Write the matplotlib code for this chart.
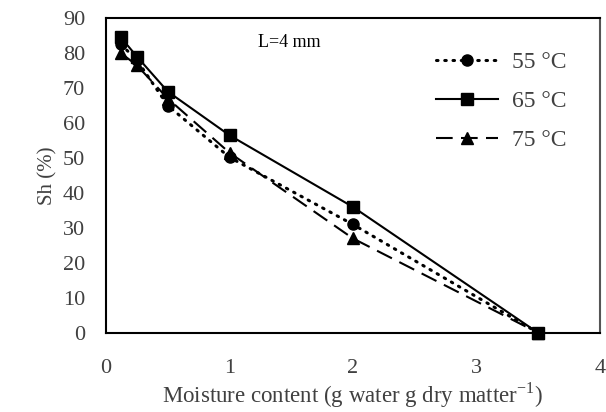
import matplotlib
matplotlib.use("Agg")
from matplotlib import pyplot as plt

plt.rcParams['font.family'] = ['Liberation Serif', 'DejaVu Serif']

moisture = [0.12, 0.25, 0.5, 1, 2, 3.5]
sh_55 = [82.5, 78, 65, 50.2, 31, 0]
sh_65 = [84.5, 79, 69, 56.5, 36, 0]
sh_75 = [80, 76.5, 67, 51.5, 27, 0]

xticks = [0, 1, 2, 3, 4]
yticks = [0, 10, 20, 30, 40, 50, 60, 70, 80, 90]

text_color = '#404040'

fig = plt.figure(figsize=(6.06, 4.12), dpi=100)
ax = fig.add_axes([0.175, 0.192, 0.815, 0.764])

ax.plot(moisture, sh_55, color='black', linestyle=(0, (0.5, 2.2)), dash_capstyle='round',
        linewidth=2.2, marker='o', markersize=8, label='55 °C', clip_on=False)
ax.plot(moisture, sh_65, color='black', linestyle='-', linewidth=1.5,
        marker='s', markersize=8, label='65 °C', clip_on=False)
ax.plot(moisture, sh_75, color='black', linestyle=(0, (8, 4)), linewidth=1.5,
        marker='^', markersize=8, label='75 °C', clip_on=False)

ax.set_xlim(0, 4)
ax.set_ylim(0, 90)
ax.set_xticks(xticks)
ax.set_yticks(yticks)
ax.tick_params(axis='y', length=0, labelsize=16, labelcolor=text_color, pad=15)
ax.tick_params(axis='x', length=0, labelsize=16, labelcolor=text_color, pad=19)
for s in ax.spines.values():
    s.set_linewidth(1.5)
    s.set_color('black')
ax.spines['right'].set_color('#555555')

ax.set_xlabel('Moisture content (g water g dry matter$^{\\mathregular{-1}}$)', fontsize=16.5,
              color=text_color)
ax.xaxis.set_label_coords(0.5, -0.222)
ax.xaxis.label.set_va('baseline')
ax.set_ylabel('Sh (%)', fontsize=15, color=text_color, labelpad=4)

ax.text(0.308, 0.95, 'L=4 mm', transform=ax.transAxes, fontsize=13, va='top')

ax.legend(loc='upper right', bbox_to_anchor=(0.975, 0.96), frameon=False, fontsize=17,
          handlelength=2.6, handletextpad=0.6, labelspacing=0.73, borderpad=0.4,
          labelcolor=text_color)

plt.savefig("out.png", dpi=100)
